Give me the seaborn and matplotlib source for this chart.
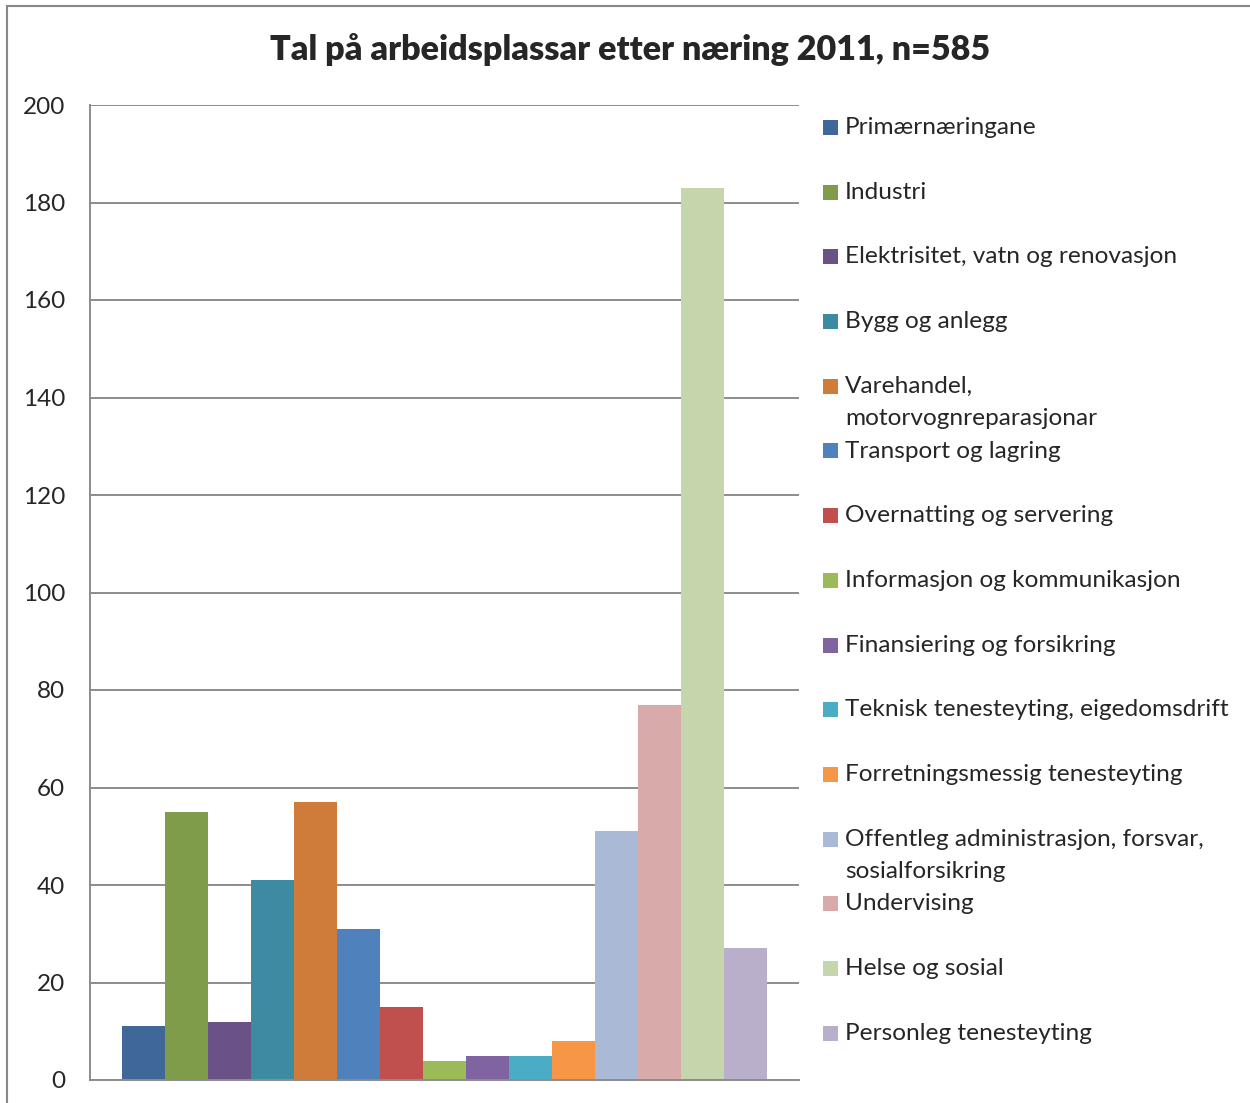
import seaborn as sns
import pandas as pd
import matplotlib
matplotlib.use('Agg')
from matplotlib import pyplot as plt
from matplotlib.patches import Rectangle

# data
naering = ['Primærnæringane', 'Industri', 'Elektrisitet, vatn og renovasjon',
           'Bygg og anlegg', 'Varehandel,\nmotorvognreparasjonar', 'Transport og lagring',
           'Overnatting og servering', 'Informasjon og kommunikasjon',
           'Finansiering og forsikring', 'Teknisk tenesteyting, eigedomsdrift',
           'Forretningsmessig tenesteyting',
           'Offentleg administrasjon, forsvar,\nsosialforsikring', 'Undervising',
           'Helse og sosial', 'Personleg tenesteyting']
tal = [11, 55, 12, 41, 57, 31, 15, 4, 5, 5, 8, 51, 77, 183, 27]
farger = ['#3F6899', '#7F9C4A', '#6A5287', '#3C8BA2', '#CF7C3A', '#4F81BD', '#C0504D',
          '#9BBB59', '#8064A2', '#4BACC6', '#F79646', '#AAB9D6', '#D9AAAA', '#C6D6AC', '#B9AFCA']
yticks = [0, 20, 40, 60, 80, 100, 120, 140, 160, 180, 200]

sns.set_style('white')
plt.rcParams['font.family'] = ['Lato', 'DejaVu Sans']

df = pd.DataFrame({'naering': naering, 'tal': tal, 'aar': ['2011'] * len(tal)})

W, H = 1250, 1103
fig = plt.figure(figsize=(W / 100, H / 100), dpi=100)
ax = fig.add_axes([90 / W, 23 / H, 709 / W, 975 / H])

sns.barplot(data=df, x='aar', y='tal', hue='naering', hue_order=naering,
            palette=farger, width=0.91, gap=0, saturation=1, legend=False,
            linewidth=0, ax=ax)

ax.set_xlim(-0.5, 0.5)
ax.set_ylim(0, 200)
ax.set_yticks(yticks)
ax.set_xticks([])
ax.set_xlabel('')
ax.set_ylabel('')
ax.tick_params(axis='y', length=0, pad=18, labelsize=17.5)
ax.yaxis.grid(True, color='#8c8c8c', linewidth=1.4)
ax.set_axisbelow(True)
for s in ['top', 'right']:
    ax.spines[s].set_visible(False)
for s in ['left', 'bottom']:
    ax.spines[s].set_color('#8c8c8c')
    ax.spines[s].set_linewidth(1.4)

# title
fig.text(630 / W, 1 - 50 / H, 'Tal på arbeidsplassar etter næring 2011, n=585',
         ha='center', va='center', fontsize=24.6, fontweight='heavy')

# legend, laid out like the Excel one
y0, step = 127, 64.7
for i, (lab, c) in enumerate(zip(naering, farger)):
    yc = y0 + i * step
    fig.patches.append(Rectangle((823 / W, 1 - (yc + 8) / H), 15 / W, 15 / H,
                                 facecolor=c, edgecolor='none',
                                 transform=fig.transFigure, figure=fig))
    fig.text(845 / W, 1 - (yc - 10) / H, lab, ha='left', va='top',
             fontsize=17.6, linespacing=1.66)

# outer chart border (right and bottom run off the image)
fig.patches.append(Rectangle((7 / W, -0.05), 1.1, 1 - 6 / H + 0.05, facecolor='none',
                             edgecolor='#888888', linewidth=1.5,
                             transform=fig.transFigure, figure=fig))

fig.savefig('out.png', dpi=100)
